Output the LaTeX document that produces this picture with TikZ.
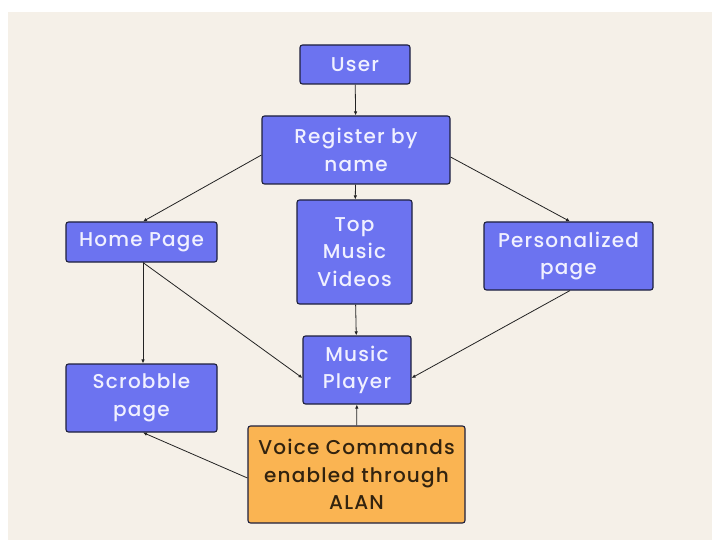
\documentclass[tikz,border=0pt]{standalone}
\usepackage{fontspec}
\setmainfont{Poppins}
\newfontfamily\boxfont{Poppins Medium}[LetterSpace=6]
\usetikzlibrary{arrows.meta}
\definecolor{bgc}{RGB}{245,240,232}
\definecolor{boxc}{RGB}{108,115,240}
\definecolor{edgec}{RGB}{30,32,60}
\definecolor{orc}{RGB}{250,180,82}
\definecolor{linec}{RGB}{35,35,35}
\definecolor{vtext}{RGB}{50,35,15}
\tikzset{
  box/.style={draw=edgec, line width=1.1pt, fill=boxc, rounded corners=2.5pt, text=white!94!blue, align=center, inner sep=0pt, font=\boxfont\fontsize{20}{27.5}\selectfont},
  obox/.style={box, fill=orc, text=vtext},
  conn/.style={draw=linec, line width=0.8pt, -{Latex[length=4pt,width=3.5pt]}},
}
\begin{document}
\begin{tikzpicture}[x=1pt,y=-1pt]
\fill[white] (0,0) rectangle (712,540);
\fill[bgc] (8,12) rectangle (712,540);
\useasboundingbox (0,0) rectangle (712,540);
\node[box, minimum width=110pt, minimum height=39pt] (user) at (355,64.5) {User};
\node[box, minimum width=188pt, minimum height=68pt] (reg) at (356,150) {Register by\\name};
\node[box, minimum width=151pt, minimum height=40pt] (home) at (141.5,242) {Home Page};
\node[box, minimum width=115pt, minimum height=104pt] (top) at (354.5,252) {Top\\Music\\Videos};
\node[box, minimum width=169pt, minimum height=68pt] (pers) at (568.5,256) {Personalized\\page};
\node[box, minimum width=108pt, minimum height=68pt] (mp) at (357,370) {Music\\Player};
\node[box, minimum width=151pt, minimum height=68pt] (scr) at (141.5,398) {Scrobble\\page};
\node[obox, minimum width=217pt, minimum height=97pt] (voice) at (356.5,474.5) {Voice Commands\\enabled through\\ALAN};
\draw[conn] (user) -- (reg);
\draw[conn] (reg.west |- 0,155) -- (home.north -| 143,0);
\draw[conn] (reg.east |- 0,157) -- (pers.north -| 570,0);
\draw[conn] (reg) -- (top);
\draw[conn] (home.south -| 143,0) -- (scr.north -| 143,0);
\draw[conn] (home.south -| 143,0) -- (mp.west |- 0,378);
\draw[conn] (top) -- (mp);
\draw[conn] (pers.south -| 570,0) -- (mp.east |- 0,378);
\draw[conn] (voice) -- (mp);
\draw[conn] (voice.west |- 0,478) -- (scr.south -| 143,0);
\end{tikzpicture}
\end{document}
